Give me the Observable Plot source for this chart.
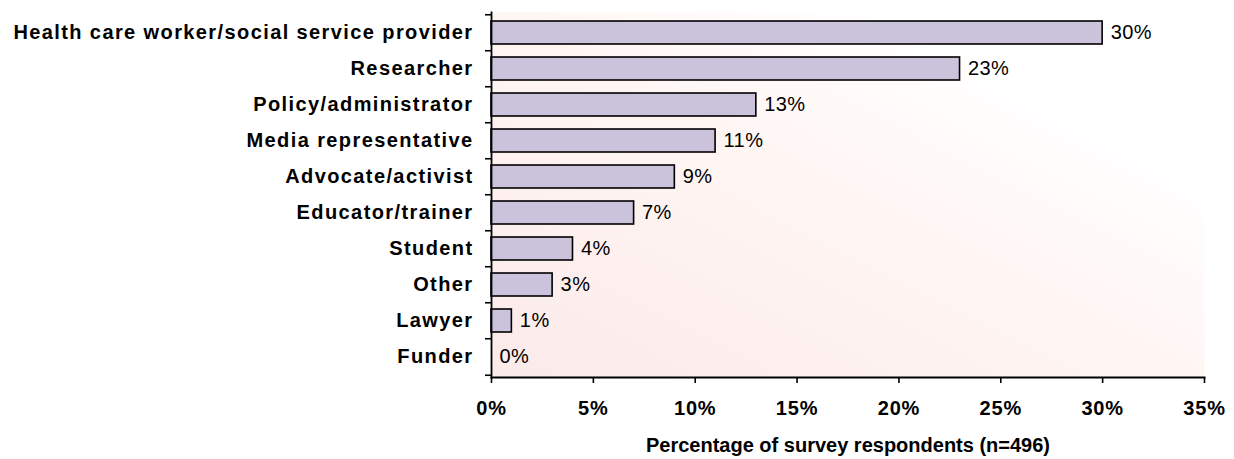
<!DOCTYPE html>
<html>
<head>
<meta charset="utf-8">
<script src="https://cdn.jsdelivr.net/npm/d3@7"></script>
<script src="https://cdn.jsdelivr.net/npm/@observablehq/plot@0.6"></script>
<style>
  html, body { margin: 0; padding: 0; background: #fff; }
  #chart svg g[aria-label="y-axis tick label"] text { letter-spacing: 1.4px; }
  #chart svg g[aria-label="x-axis tick label"] text { letter-spacing: 0.8px; }
  #chart svg g[aria-label="x-axis label"] text { letter-spacing: 0px; }
  #chart svg g.vals text { letter-spacing: 0.4px; }
</style>
</head>
<body>
<div id="chart"></div>
<script>
const categories = [
  "Health care worker/social service provider",
  "Researcher",
  "Policy/administrator",
  "Media representative",
  "Advocate/activist",
  "Educator/trainer",
  "Student",
  "Other",
  "Lawyer",
  "Funder"
];
const values = [30, 23, 13, 11, 9, 7, 4, 3, 1, 0];
const xTicks = [0, 5, 10, 15, 20, 25, 30, 35];
const xLabel = "Percentage of survey respondents (n=496)";

const data = categories.map((c, i) => ({category: c, value: values[i]}));

const W = 1234, H = 459, mT = 12, mB = 82;
const step = (H - mT - mB) / categories.length;

const defs = () => {
  const d = d3.create("svg:defs");
  const g = d.append("linearGradient").attr("id", "bg")
    .attr("x1", "0").attr("y1", "1").attr("x2", "1").attr("y2", "0");
  g.append("stop").attr("offset", "0").attr("stop-color", "#fbeaea");
  g.append("stop").attr("offset", "0.5").attr("stop-color", "#fff6f4");
  g.append("stop").attr("offset", "0.78").attr("stop-color", "#ffffff");
  return d.node();
};

const chart = Plot.plot({
  width: W,
  height: H,
  marginLeft: 491,
  marginRight: 30,
  marginTop: mT,
  marginBottom: mB,
  style: {fontFamily: "'Liberation Sans', Arial, sans-serif", color: "#000", background: "#fff", overflow: "visible"},
  x: {domain: [0, 35]},
  y: {domain: categories, paddingInner: 0.37, paddingOuter: 0.185},
  marks: [
    defs,
    Plot.frame({fill: "url(#bg)"}),
    Plot.barX(data, {x: "value", y: "category", fill: "#cbc3dc", stroke: "#000", strokeWidth: 1.6}),
    Plot.text(data, {x: "value", y: "category", text: d => d.value + "%", textAnchor: "start", dx: 8, fontSize: 20, fill: "#000", className: "vals"}),
    Plot.axisX({ticks: xTicks, tickFormat: d => d + "%", tickSize: 6, tickPadding: 17, fontSize: 20, fontWeight: "bold", strokeWidth: 1.6,
      label: xLabel, labelAnchor: "center", labelArrow: "none", labelOffset: 74}),
    Plot.axisY({tickSize: 0, tickPadding: 18, fontSize: 20, fontWeight: "bold", label: null}),
    Plot.axisY({tickSize: 6, tickFormat: () => "", dy: -step / 2, strokeWidth: 1.6, label: null}),
    Plot.axisY({ticks: [categories[categories.length - 1]], tickSize: 6, tickFormat: () => "", dy: step / 2, strokeWidth: 1.6, label: null}),
    Plot.frame({anchor: "left", strokeWidth: 1.8}),
    Plot.frame({anchor: "bottom", strokeWidth: 1.8})
  ]
});
document.getElementById("chart").appendChild(chart);
</script>
</body>
</html>
